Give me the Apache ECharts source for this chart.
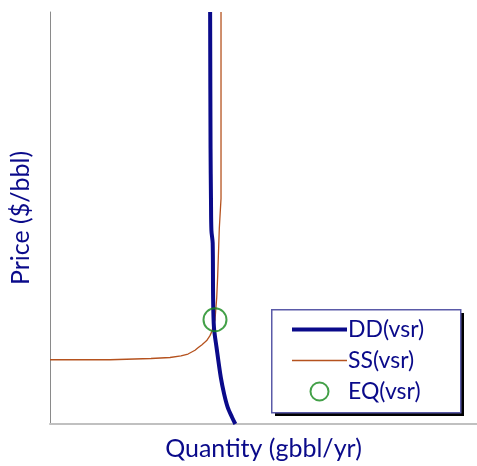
<!DOCTYPE html>
<html>
<head>
<meta charset="utf-8">
<script src="https://cdn.jsdelivr.net/npm/echarts@6/dist/echarts.min.js"></script>
<style>
html,body{margin:0;padding:0;background:#fff;}
#chart{width:477px;height:466px;}
</style>
</head>
<body>
<div id="chart"></div>
<script>
// Demand curve DD(vsr): quantity / price (relative units, axes unlabelled)
const ddQuantity = [37.5, 37.6, 37.7, 37.8, 38.1, 38.2, 38.4, 39.0, 40.0, 40.8, 41.6, 42.6, 43.4];
const ddPrice    = [100, 66.8, 54.7, 47.0, 43.9, 30.6, 23.4, 18.6, 11.3, 7.2, 4.1, 1.7, 0];
// Supply curve SS(vsr)
const ssQuantity = [0, 14.05, 14.05, 23.65, 23.65, 28.1, 28.1, 30.68, 30.68, 32.32, 32.32, 33.96, 34.73, 35.53, 36.7, 37.47, 37.87, 38.64, 39.04, 39.27, 39.65, 40.05, 40.05];
const ssPrice    = [15.59, 15.59, 15.9, 15.9, 16.14, 16.14, 16.51, 16.51, 16.99, 16.99, 17.47, 17.9, 18.55, 19.2, 20.24, 21.45, 22.41, 25.3, 30.6, 35.9, 47.47, 54.7, 100];
// Equilibrium EQ(vsr)
const eqQuantity = [38.64];
const eqPrice    = [25.3];

const seriesNames = ['DD(vsr)', 'SS(vsr)', 'EQ(vsr)'];
const xAxisTitle = 'Quantity (gbbl/yr)';
const yAxisTitle = 'Price ($/bbl)';

const zip = (a, b) => a.map((v, i) => [v, b[i]]);
const navy = '#0a0a8a';
const ssColor = '#b5521e';
const eqColor = '#14881a';
const fontFam = 'Lato, "Open Sans", sans-serif';

const chart = echarts.init(document.getElementById('chart'), null, {renderer: 'canvas'});
chart.setOption({
  animation: false,
  backgroundColor: '#fff',
  grid: {left: 50, top: 12, right: 0, bottom: 39, containLabel: false},
  xAxis: {
    type: 'value', min: 0, max: 100,
    name: xAxisTitle, nameLocation: 'middle', nameGap: 12,
    nameTextStyle: {color: navy, fontSize: 25, fontFamily: fontFam},
    axisLine: {show: true, lineStyle: {color: '#c0c0c0', width: 2}},
    axisTick: {show: false}, axisLabel: {show: false}, splitLine: {show: false}
  },
  yAxis: {
    type: 'value', min: 0, max: 100,
    name: yAxisTitle, nameLocation: 'middle', nameGap: 17,
    nameTextStyle: {color: navy, fontSize: 25, fontFamily: fontFam},
    axisLine: {show: true, lineStyle: {color: '#8a8a8a', width: 1}},
    axisTick: {show: false}, axisLabel: {show: false}, splitLine: {show: false}
  },
  graphic: [
    {type: 'rect', left: 275, top: 313, z: 0, silent: true,
      shape: {width: 189, height: 103}, style: {fill: '#000'}},
    {type: 'rect', left: 271, top: 309, z: 1, silent: true,
      shape: {width: 189, height: 103},
      style: {fill: '#fff', stroke: '#5a5aa8', lineWidth: 1.5}}
  ],
  legend: {
    data: [
      {name: seriesNames[0], icon: 'path://M0,0 L55,0 L55,4 L0,4 Z'},
      {name: seriesNames[1], icon: 'path://M0,0 L55,0 L55,1.3 L0,1.3 Z'},
      {name: seriesNames[2]}
    ],
    orient: 'vertical', left: 292, top: 318, padding: 0,
    itemWidth: 55, itemHeight: 18, itemGap: 8, z: 10,
    textStyle: {color: navy, fontSize: 23, lineHeight: 18, fontFamily: fontFam, padding: [0, 0, 0, -4]},
    selectedMode: false
  },
  series: [
    {name: seriesNames[0], type: 'line', data: zip(ddQuantity, ddPrice), showSymbol: false, symbol: 'none',
      smooth: 0.3, lineStyle: {color: navy, width: 4}, itemStyle: {color: navy}, z: 3},
    {name: seriesNames[1], type: 'line', data: zip(ssQuantity, ssPrice), showSymbol: false, symbol: 'none',
      lineStyle: {color: ssColor, width: 1.3}, itemStyle: {color: ssColor}, z: 2},
    {name: seriesNames[2], type: 'scatter', data: zip(eqQuantity, eqPrice), symbol: 'circle', symbolSize: 23,
      itemStyle: {color: 'rgba(0,0,0,0)', borderColor: eqColor, borderWidth: 2}, z: 4}
  ]
});
</script>
</body>
</html>
